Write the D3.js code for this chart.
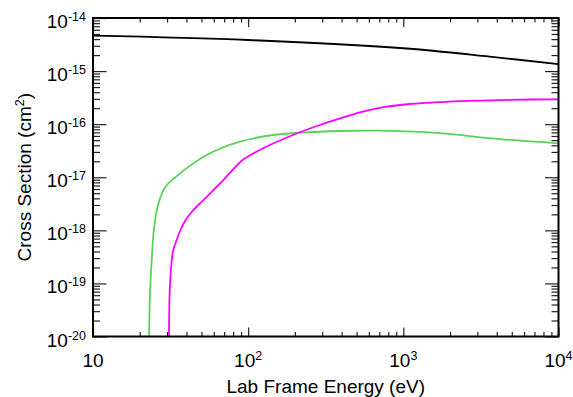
<!DOCTYPE html>
<html>
<head>
<meta charset="utf-8">
<script src="https://cdn.jsdelivr.net/npm/d3@7"></script>
<style>
  body { margin: 0; background: #fff; }
  svg text { font-family: "Liberation Sans", Arial, sans-serif; fill: #000; }
</style>
</head>
<body>
<div id="chart"></div>
<script>
// energies in eV, cross sections in cm^2
const blackEnergy = [10, 100, 1000, 3600, 10000];
const blackSigma = [4.65e-15, 3.85e-15, 2.69e-15, 1.87e-15, 1.35e-15];

const greenEnergy = [23.0, 23.1, 23.3, 23.9, 24.8, 26.35, 29.1, 32.9, 54.1, 88.6, 145, 216, 391, 677, 1553, 4197, 10000];
const greenSigma = [1e-20, 2.54e-20, 6.59e-20, 2.76e-19, 1.16e-18, 3.13e-18, 6.41e-18, 9.27e-18, 2.62e-17, 4.67e-17, 6.25e-17, 6.9e-17, 7.43e-17, 7.53e-17, 6.9e-17, 5.25e-17, 4.36e-17];

const magentaEnergy = [30.9, 31.2, 32.2, 32.9, 34.6, 36.4, 39.2, 42.2, 47.7, 54.1, 61.1, 69.2, 80.2, 93.0, 131.6, 205.5, 290, 391, 526, 762, 1104, 1723, 2689, 4868, 10000];
const magentaSigma = [1e-20, 6.59e-20, 2.76e-19, 4.26e-19, 6.57e-19, 9.71e-19, 1.5e-18, 2.03e-18, 3.0e-18, 4.25e-18, 6.14e-18, 8.87e-18, 1.43e-17, 2.16e-17, 3.79e-17, 6.67e-17, 9.64e-17, 1.28e-16, 1.66e-16, 2.11e-16, 2.4e-16, 2.61e-16, 2.75e-16, 2.88e-16, 2.94e-16];

const xMajor = [10, 100, 1000, 10000];
const xLabelExp = [null, "2", "3", "4"];
const yMajor = [1e-20, 1e-19, 1e-18, 1e-17, 1e-16, 1e-15, 1e-14];
const yLabelExp = ["-20", "-19", "-18", "-17", "-16", "-15", "-14"];

const width = 573, height = 397;
const margin = {top: 18, right: 14.5, bottom: 60.5, left: 93};
const plotLeft = margin.left, plotRight = width - margin.right;
const plotTop = margin.top, plotBottom = height - margin.bottom;

const svg = d3.select("#chart").append("svg")
    .attr("width", width)
    .attr("height", height);

const x = d3.scaleLog().domain([10, 1e4]).range([plotLeft, plotRight]);
const y = d3.scaleLog().domain([1e-20, 1e-14]).range([plotBottom, plotTop]);

const isMajor = v => Math.abs(Math.log10(v) - Math.round(Math.log10(v))) < 1e-9;
const xMinor = x.ticks().filter(v => !isMajor(v));
const yMinor = y.ticks().filter(v => !isMajor(v));

// ticks pointing inward on all four sides
function tickAxis(axis, values, size, tr) {
  const g = svg.append("g")
      .attr("transform", tr)
      .call(axis.tickValues(values).tickSize(-size).tickFormat(""));
  g.select(".domain").remove();
  g.selectAll("line").attr("stroke", "#222").attr("stroke-width", 1.2);
}
tickAxis(d3.axisBottom(x), xMinor, 4.5, `translate(0,${plotBottom})`);
tickAxis(d3.axisBottom(x), xMajor, 9, `translate(0,${plotBottom})`);
tickAxis(d3.axisTop(x), xMinor, 4.5, `translate(0,${plotTop})`);
tickAxis(d3.axisTop(x), xMajor, 9, `translate(0,${plotTop})`);
tickAxis(d3.axisLeft(y), yMinor, 7, `translate(${plotLeft},0)`);
tickAxis(d3.axisLeft(y), yMajor, 13.5, `translate(${plotLeft},0)`);
tickAxis(d3.axisRight(y), yMinor, 7, `translate(${plotRight},0)`);
tickAxis(d3.axisRight(y), yMajor, 13.5, `translate(${plotRight},0)`);

// curves
const curves = [
  {e: greenEnergy, s: greenSigma, color: "#5ad25a"},
  {e: magentaEnergy, s: magentaSigma, color: "#ff00ff"},
  {e: blackEnergy, s: blackSigma, color: "#000"}
];
const line = d3.line()
    .x(d => x(d[0]))
    .y(d => y(d[1]))
    .curve(d3.curveCatmullRom.alpha(0.5));

curves.forEach(c => {
  svg.append("path")
      .datum(c.e.map((e, i) => [e, c.s[i]]))
      .attr("fill", "none")
      .attr("stroke", c.color)
      .attr("stroke-width", 1.8)
      .attr("d", line);
});

// frame
svg.append("rect")
    .attr("x", plotLeft).attr("y", plotTop)
    .attr("width", plotRight - plotLeft).attr("height", plotBottom - plotTop)
    .attr("fill", "none")
    .attr("stroke", "#000")
    .attr("stroke-width", 2);

// x tick labels
xMajor.forEach((v, i) => {
  const t = svg.append("text")
      .attr("x", x(v)).attr("y", plotBottom + 30.5)
      .attr("text-anchor", "middle")
      .style("font-size", "19px")
      .text("10");
  if (xLabelExp[i]) {
    t.append("tspan").attr("dy", -7).style("font-size", "12.5px").text(xLabelExp[i]);
  }
});

// y tick labels
yMajor.forEach((v, i) => {
  svg.append("text")
      .attr("x", plotLeft - 7).attr("y", y(v) + 10)
      .attr("text-anchor", "end")
      .style("font-size", "19px")
      .text("10")
    .append("tspan").attr("dy", -7).style("font-size", "12.5px").text(yLabelExp[i]);
});

// axis titles
svg.append("text")
    .attr("x", (plotLeft + plotRight) / 2).attr("y", 393)
    .attr("text-anchor", "middle")
    .style("font-size", "19px")
    .text("Lab Frame Energy (eV)");

const yt = svg.append("text")
    .attr("transform", `translate(31,${(plotTop + plotBottom) / 2}) rotate(-90)`)
    .attr("text-anchor", "middle")
    .style("font-size", "19px")
    .text("Cross Section (cm");
yt.append("tspan").attr("dy", -7).style("font-size", "12.5px").text("2");
yt.append("tspan").attr("dy", 7).text(")");
</script>
</body>
</html>
